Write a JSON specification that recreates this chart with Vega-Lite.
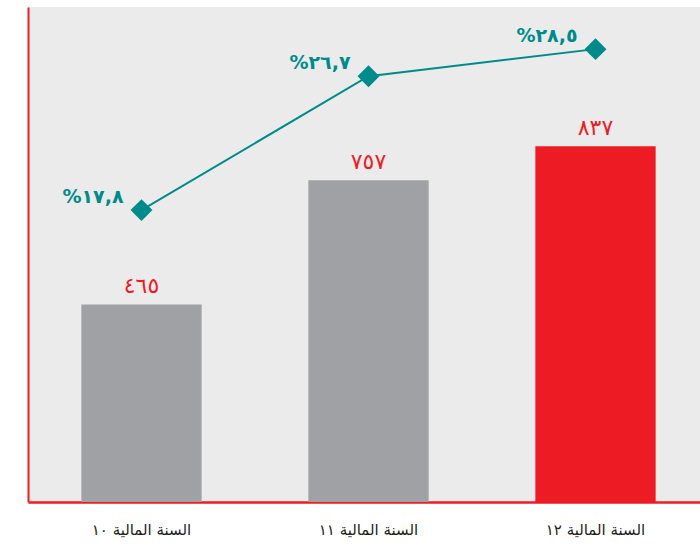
{
  "$schema": "https://vega.github.io/schema/vega-lite/v6.json",
  "width": 681,
  "height": 495,
  "autosize": {"type": "none"},
  "padding": {"left": 28, "top": 7, "right": 0, "bottom": 44},
  "background": "#ffffff",
  "config": {
    "view": {"fill": "#ebebeb", "stroke": null},
    "font": "DejaVu Sans"
  },
  "data": {
    "values": [
      {"year": "السنة المالية ١٠", "value": 465, "valueLabel": "٤٦٥", "pct": 17.8, "pctLabel": "%١٧,٨"},
      {"year": "السنة المالية ١١", "value": 757, "valueLabel": "٧٥٧", "pct": 26.7, "pctLabel": "%٢٦,٧"},
      {"year": "السنة المالية ١٢", "value": 837, "valueLabel": "٨٣٧", "pct": 28.5, "pctLabel": "%٢٨,٥"}
    ]
  },
  "encoding": {
    "x": {
      "field": "year",
      "type": "nominal",
      "sort": null,
      "scale": {"paddingInner": 0.47, "paddingOuter": 0.235},
      "axis": {
        "title": null,
        "domainColor": "#ed1c24",
        "domainWidth": 2.5,
        "ticks": false,
        "labelAngle": 0,
        "labelFontSize": 15,
        "labelColor": "#231f20",
        "labelPadding": 20,
        "labelFont": "DejaVu Sans"
      }
    }
  },
  "layer": [
    {
      "layer": [
        {
          "mark": {"type": "bar"},
          "encoding": {
            "y": {
              "field": "value",
              "type": "quantitative",
              "scale": {"domain": [0, 1165], "nice": false},
              "axis": {
                "title": null,
                "domainColor": "#ed1c24",
                "domainWidth": 2,
                "ticks": false,
                "labels": false,
                "grid": false
              }
            },
            "color": {
              "field": "year",
              "type": "nominal",
              "sort": null,
              "scale": {"range": ["#a0a1a5", "#a0a1a5", "#ed1c24"]},
              "legend": null
            }
          }
        },
        {
          "mark": {"type": "text", "baseline": "bottom", "dy": -6, "fontSize": 22, "color": "#ed1c24"},
          "encoding": {
            "y": {"field": "value", "type": "quantitative"},
            "text": {"field": "valueLabel"}
          }
        }
      ]
    },
    {
      "layer": [
        {
          "mark": {"type": "line", "color": "#008b8b", "strokeWidth": 2},
          "encoding": {
            "y": {
              "field": "pct",
              "type": "quantitative",
              "scale": {"domain": [-1.6, 31.3], "nice": false, "zero": false},
              "axis": null
            }
          }
        },
        {
          "mark": {"type": "point", "shape": "diamond", "filled": true, "size": 480, "color": "#008b8b", "opacity": 1},
          "encoding": {
            "y": {"field": "pct", "type": "quantitative"}
          }
        },
        {
          "mark": {"type": "text", "align": "right", "baseline": "middle", "dx": -18, "dy": -13, "fontSize": 19, "fontWeight": 600, "color": "#008b8b"},
          "encoding": {
            "y": {"field": "pct", "type": "quantitative"},
            "text": {"field": "pctLabel"}
          }
        }
      ]
    }
  ],
  "resolve": {"scale": {"y": "independent"}}
}
